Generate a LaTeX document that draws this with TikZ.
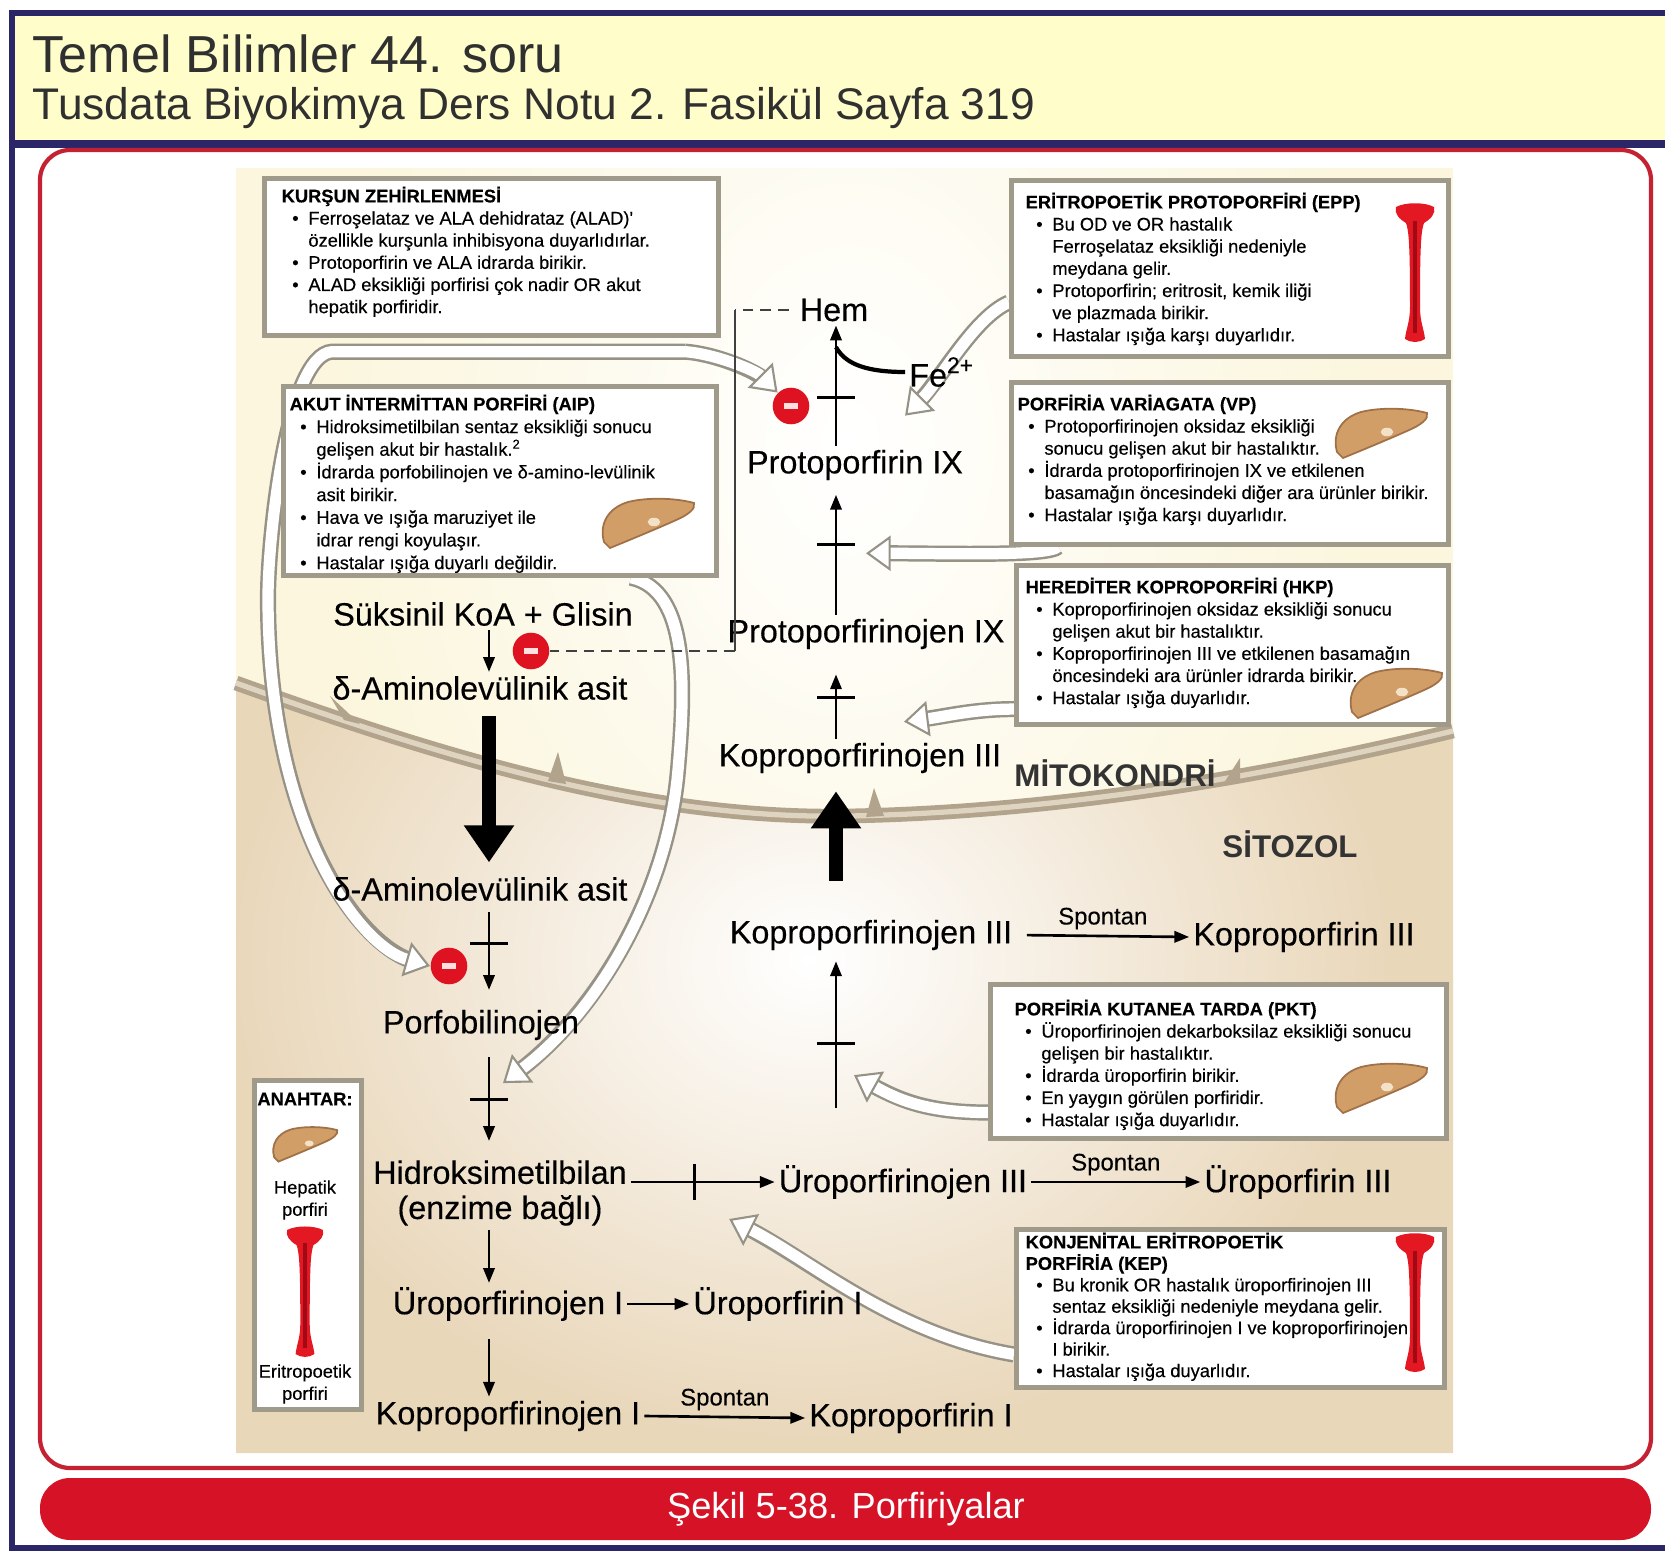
\documentclass[tikz,border=0pt]{standalone}
\usepackage{fontspec}
\setmainfont{Liberation Sans}
\newfontfamily\labelfont{Liberation Sans}[FakeBold=0.35]
\usetikzlibrary{positioning,arrows.meta}

\definecolor{navy}{RGB}{42,38,104}
\definecolor{headyellow}{RGB}{255,254,202}
\definecolor{framered}{RGB}{196,34,50}
\definecolor{barred}{RGB}{214,18,38}
\definecolor{mito}{RGB}{251,246,221}
\definecolor{cyto}{RGB}{233,215,186}
\definecolor{memb}{RGB}{178,164,140}
\definecolor{membin}{RGB}{222,212,192}
\definecolor{boxline}{RGB}{160,154,138}
\definecolor{cgray}{RGB}{150,146,134}
\definecolor{liverbrown}{RGB}{210,158,104}
\definecolor{liverdark}{RGB}{160,112,70}
\definecolor{liverlight}{RGB}{244,226,200}
\definecolor{bonered}{RGB}{228,24,34}
\definecolor{bonedark}{RGB}{160,10,20}
\definecolor{inhred}{RGB}{222,18,32}
\definecolor{headtext}{RGB}{48,48,48}

% bullet lines inside the disease boxes
\newcommand{\bul}{\hspace*{3pt}\makebox[4.6pt][l]{\textbullet}}
\newcommand{\cnt}{\hspace*{7.6pt}}

\pgfdeclarelayer{back}
\pgfdeclarelayer{links}
\pgfsetlayers{back,links,main}

\tikzset{
  liverpic/.pic={
    \fill[liverbrown, draw=liverdark, line width=0.5pt]
      (-44,22) .. controls (-49,4) and (-40,-12) .. (-20,-18)
      .. controls (0,-23) and (28,-22) .. (46,-17)
      .. controls (48,-11) and (40,-5) .. (26,1)
      .. controls (8,9) and (-16,19) .. (-38,28) -- cycle;
    \fill[liverlight] (6,2) ellipse [x radius=1.8pt, y radius=1.2pt];
  },
  bonepic/.pic={
    \fill[bonered]
      (-19,0) .. controls (-10,-5) and (10,-5) .. (19,0)
      .. controls (21,6) and (16,12) .. (9,16)
      .. controls (6,24) and (5,40) .. (5,100)
      .. controls (5,115) and (9,122) .. (10,132)
      .. controls (4,136) and (-4,136) .. (-10,132)
      .. controls (-9,122) and (-5,115) .. (-5,100)
      .. controls (-5,40) and (-6,24) .. (-9,16)
      .. controls (-16,12) and (-21,6) .. (-19,0) -- cycle;
    \draw[bonedark, line width=1pt] (0,14) -- (0,126);
  }
}

\begin{document}
\begin{tikzpicture}[x=0.01cm, y=-0.01cm,
  met/.style={font=\labelfont\fontsize{9.2pt}{10pt}\selectfont, inner sep=1pt},
  spont/.style={font=\labelfont\fontsize{6.8pt}{8pt}\selectfont, inner sep=1.5pt},
  arr/.style={-{Triangle[length=4.2pt, width=3.2pt]}, line width=0.75pt},
  bigarr/.style={-{Triangle[length=10.5pt, width=13.6pt]}, line width=3.7pt},
  bar/.style={fill=black, inner sep=0, minimum width=11pt, minimum height=0.9pt},
  vbar/.style={fill=black, inner sep=0, minimum width=0.9pt, minimum height=10pt},
  inh/.style={circle, fill=inhred, text=white!88!red, minimum size=10.4pt, inner sep=0},
  fb/.style={line width=0.6pt, draw=black!75},
  box/.style={draw=boxline, line width=1.3pt, fill=white, anchor=north west, inner sep=0},
  boxtxt/.style={anchor=north west, inner sep=0, align=left, font=\labelfont\fontsize{5.2pt}{6.3pt}\selectfont},
  keytxt/.style={inner sep=0, align=center, font=\labelfont\fontsize{5.2pt}{6.3pt}\selectfont},
  callout/.style={draw=white, line width=3.2pt,
    -{Triangle[length=7pt, width=10pt, line width=0.6pt, color=cgray, fill=white]},
    preaction={draw=cgray, line width=4.6pt, arrows={-}, shorten >=5pt}},
  zone/.style={font=\bfseries\fontsize{8.9pt}{10pt}\selectfont, text=black!80, inner sep=0}
]
\useasboundingbox (0,0) rectangle (1665,1551);

% page, header and frame
\begin{pgfonlayer}{back}
  \fill[white] (0,0) rectangle (1665,1551);
  \fill[headyellow] (12,15) rectangle (1665,142);
  \draw[navy, line width=1.8pt] (1670,13) -- (12,13) -- (12,1548) -- (1670,1548);
  \draw[navy, line width=2pt] (12,144) -- (1665,144);
  \draw[framered, line width=1.2pt, rounded corners=0.3cm] (40,150) rectangle (1651,1468);
  \fill[barred, rounded corners=0.3cm] (40,1478) rectangle (1651,1540);

  % cell: mitochondrion above, cytosol below the membrane
  \fill[mito] (236,168) rectangle (1453,1453);
  \begin{scope}
    \clip (236,168) rectangle (1453,1453);
    \shade[inner color=white, outer color=mito] (850,440) ellipse [x radius=5.2cm, y radius=7cm];
  \end{scope}
  \fill[cyto] (236,683) .. controls (450,760) and (650,820) .. (850,816)
    .. controls (1050,812) and (1250,780) .. (1453,731) -- (1453,1453) -- (236,1453) -- cycle;
  \begin{scope}
    \clip (236,683) .. controls (450,760) and (650,820) .. (850,816)
      .. controls (1050,812) and (1250,780) .. (1453,731) -- (1453,1453) -- (236,1453) -- cycle;
    \shade[inner color=white, outer color=cyto] (810,960) ellipse [x radius=5.8cm, y radius=4.8cm];
  \end{scope}
  \draw[memb, line width=4.2pt] (236,683) .. controls (450,760) and (650,820) .. (850,816)
    .. controls (1050,812) and (1250,780) .. (1453,731);
  \draw[membin, line width=1.5pt] (236,683) .. controls (450,760) and (650,820) .. (850,816)
    .. controls (1050,812) and (1250,780) .. (1453,731);
  % cristae
  \fill[memb] (344,720) -- (330,696) -- (360,724) -- cycle;
  \fill[memb] (548,781) -- (558,752) -- (566,784) -- cycle;
  \fill[memb] (866,817) -- (874,788) -- (884,816) -- cycle;
  \fill[memb] (1222,786) -- (1240,758) -- (1240,783) -- cycle;
\end{pgfonlayer}

\node[anchor=base west, inner sep=0, text=headtext, font=\fontsize{14.8pt}{16pt}\selectfont] (title) at (32,72) {Temel Bilimler 44. soru};
\node[anchor=base west, inner sep=0, text=headtext, font=\fontsize{12.6pt}{14pt}\selectfont] (source) at (32,119) {Tusdata Biyokimya Ders Notu 2. Fasikül Sayfa 319};
\node[text=white, inner sep=0, font=\fontsize{10.3pt}{12pt}\selectfont] (caption) at (846,1509) {Şekil 5-38. Porfiriyalar};

\node[zone] (mitolbl) at (1115,773) {MİTOKONDRİ};
\node[zone] (sitolbl) at (1290,844) {SİTOZOL};

% heme pathway
\coordinate (axis) at (836,0);
\coordinate (laxis) at (489,0);
\node[met] (hem) at (834,310) {Hem};
\node[met] (fe) at (942,372) {Fe\textsuperscript{2+}};
\node[met] (proto) at (855,465) {Protoporfirin IX};
\node[met] (protogen) at (866,634) {Protoporfirinojen IX};
\node[met] (kop3m) at (860,758) {Koproporfirinojen III};
\node[met] (kop3c) at (871,935) {Koproporfirinojen III};
\node[met] (kopr3) at (1304,937) {Koproporfirin III};
\node[met] (uro3) at (903,1182) {Üroporfirinojen III};
\node[met] (urop3) at (1298,1182) {Üroporfirin III};
\node[met] (suk) at (483,614) {Süksinil KoA + Glisin};
\node[met] (ala1) at (480,688) {δ-Aminolevülinik asit};
\node[met] (ala2) at (480,889) {δ-Aminolevülinik asit};
\node[met] (pbg) at (481,1025) {Porfobilinojen};
\node[met, align=center] (hmb) at (500,1193) {Hidroksimetilbilan\\(enzime bağlı)};
\node[met] (uro1) at (508,1304) {Üroporfirinojen I};
\node[met] (urop1) at (778,1304) {Üroporfirin I};
\node[met] (kop1) at (508,1416) {Koproporfirinojen I};
\node[met] (kopr1) at (911,1418) {Koproporfirin I};

\node[inh] (inhHem) at (791,406) {\rule{4pt}{1.6pt}};
\node[inh] (inhAla) at (531,651) {\rule{4pt}{1.6pt}};
\node[inh] (inhPbg) at (449,966) {\rule{4pt}{1.6pt}};

\draw[arr] (proto.north -| axis) -- node[bar, pos=.4] {} coordinate[pos=.82] (feIn) (hem.south -| axis);
\draw[line width=1.2pt] (fe.west) .. controls +(-45,0) and +(8,14) .. (feIn);
\draw[arr, shorten >=3pt] (protogen.north -| axis) -- node[bar, pos=.54] {} coordinate[pos=.54] (barB) (proto.south -| axis);
\draw[arr, shorten >=6pt] (kop3m.north -| axis) -- node[bar, pos=.48] {} coordinate[pos=.48] (barC) (protogen.south -| axis);
\draw[bigarr, shorten <=10pt, shorten >=4pt] (kop3c.north -| axis) -- (kop3m.south -| axis);
\draw[arr, shorten <=15pt, shorten >=2pt] (uro3.north -| axis) -- node[bar, pos=.57] {} coordinate[pos=.57] (barE) (kop3c.south -| axis);
\draw[arr, shorten <=3pt] (kop3c.east) -- node[above, spont] {Spontan} (kopr3.west);
\draw[arr] (hmb.east |- uro3.west) -- node[vbar, pos=.44] {} coordinate[pos=.44] (barG) (uro3.west);
\draw[arr] (uro3.east) -- node[above, spont] {Spontan} (urop3.west);

\draw[arr] (suk.south -| laxis) -- (ala1.north -| laxis);
\draw[bigarr, shorten <=3.5pt, shorten >=3pt] (ala1.south -| laxis) -- (ala2.north -| laxis);
\draw[arr, shorten <=2pt, shorten >=4.5pt] (ala2.south -| laxis) -- node[bar, pos=.38] {} (pbg.north -| laxis);
\draw[arr, shorten <=3.7pt, shorten >=4.3pt] (pbg.south -| laxis) -- node[bar, pos=.49] {} coordinate[pos=.49] (barL) (hmb.north -| laxis);
\draw[arr] (hmb.south -| laxis) -- (uro1.north -| laxis);
\draw[arr] (uro1.east) -- (urop1.west);
\draw[arr, shorten <=4pt] (uro1.south -| laxis) -- (kop1.north -| laxis);
\draw[arr] (kop1.east) -- node[above, spont] {Spontan} (kopr1.west);

% heme feedback on ALA synthase
\draw[fb, densely dashed, shorten <=2pt] (hem.west) -- (hem.west -| 735,0);
\draw[fb] (hem.west -| 735,0) -- (inhAla.east -| 735,0);
\draw[fb, densely dashed] (inhAla.east -| 735,0) -- (inhAla.east);

% disease boxes
\node[box, minimum width=4.54cm, minimum height=1.57cm] (kursun) at (262,176) {};
\node[boxtxt] at ([shift={(19,10)}]kursun.north west) {\textbf{KURŞUN ZEHİRLENMESİ}\\
\bul Ferroşelataz ve ALA dehidrataz (ALAD)'\\
\cnt özellikle kurşunla inhibisyona duyarlıdırlar.\\
\bul Protoporfirin ve ALA idrarda birikir.\\
\bul ALAD eksikliği porfirisi çok nadir OR akut\\
\cnt hepatik porfiridir.};

\node[box, minimum width=4.37cm, minimum height=1.76cm] (epp) at (1009,178) {};
\node[boxtxt] at ([shift={(16,14)}]epp.north west) {\textbf{ERİTROPOETİK PROTOPORFİRİ (EPP)}\\
\bul Bu OD ve OR hastalık\\
\cnt Ferroşelataz eksikliği nedeniyle\\
\cnt meydana gelir.\\
\bul Protoporfirin; eritrosit, kemik iliği\\
\cnt ve plazmada birikir.\\
\bul Hastalar ışığa karşı duyarlıdır.};
\pic at (1415,207) {bonepic};

\node[box, minimum width=4.33cm, minimum height=1.89cm] (aip) at (281,384) {};
\node[boxtxt, font=\labelfont\fontsize{5.2pt}{6.45pt}\selectfont] at ([shift={(8,10)}]aip.north west) {\textbf{AKUT İNTERMİTTAN PORFİRİ (AIP)}\\
\bul Hidroksimetilbilan sentaz eksikliği sonucu\\
\cnt gelişen akut bir hastalık.\textsuperscript{2}\\
\bul İdrarda porfobilinojen ve δ-amino-levülinik\\
\cnt asit birikir.\\
\bul Hava ve ışığa maruziyet ile\\
\cnt idrar rengi koyulaşır.\\
\bul Hastalar ışığa duyarlı değildir.};
\pic at (648,520) {liverpic};

\node[box, minimum width=4.37cm, minimum height=1.62cm] (vp) at (1009,380) {};
\node[boxtxt] at ([shift={(8,14)}]vp.north west) {\textbf{PORFİRİA VARİAGATA (VP)}\\
\bul Protoporfirinojen oksidaz eksikliği\\
\cnt sonucu gelişen akut bir hastalıktır.\\
\bul İdrarda protoporfirinojen IX ve etkilenen\\
\cnt basamağın öncesindeki diğer ara ürünler birikir.\\
\bul Hastalar ışığa karşı duyarlıdır.};
\pic at (1381,430) {liverpic};

\node[box, minimum width=4.32cm, minimum height=1.59cm] (hkp) at (1014,563) {};
\node[boxtxt] at ([shift={(11,14)}]hkp.north west) {\textbf{HEREDİTER KOPROPORFİRİ (HKP)}\\
\bul Koproporfirinojen oksidaz eksikliği sonucu\\
\cnt gelişen akut bir hastalıktır.\\
\bul Koproporfirinojen III ve etkilenen basamağın\\
\cnt öncesindeki ara ürünler idrarda birikir.\\
\bul Hastalar ışığa duyarlıdır.};
\pic at (1396,690) {liverpic};

\node[box, minimum width=4.56cm, minimum height=1.54cm] (pkt) at (988,982) {};
\node[boxtxt] at ([shift={(26,17)}]pkt.north west) {\textbf{PORFİRİA KUTANEA TARDA (PKT)}\\
\bul Üroporfirinojen dekarboksilaz eksikliği sonucu\\
\cnt gelişen bir hastalıktır.\\
\bul İdrarda üroporfirin birikir.\\
\bul En yaygın görülen porfiridir.\\
\bul Hastalar ışığa duyarlıdır.};
\pic at (1381,1085) {liverpic};

\node[box, minimum width=4.28cm, minimum height=1.58cm] (kep) at (1014,1227) {};
\node[boxtxt, font=\labelfont\fontsize{5.2pt}{6.1pt}\selectfont] at ([shift={(11,5)}]kep.north west) {\textbf{KONJENİTAL ERİTROPOETİK}\\
\textbf{PORFİRİA (KEP)}\\
\bul Bu kronik OR hastalık üroporfirinojen III\\
\cnt sentaz eksikliği nedeniyle meydana gelir.\\
\bul İdrarda üroporfirinojen I ve koproporfirinojen\\
\cnt I birikir.\\
\bul Hastalar ışığa duyarlıdır.};
\pic at (1415,1237) {bonepic};

% key
\node[box, minimum width=1.07cm, minimum height=3.29cm] (key) at (252,1078) {};
\node[keytxt] (keyhead) at (305,1099) {\textbf{ANAHTAR:}};
\pic[scale=0.7] at (305,1142) {liverpic};
\node[keytxt] (keyliver) at (305,1200) {Hepatik\\porfiri};
\pic[scale=0.94] at (305,1230) {bonepic};
\node[keytxt] (keybone) at (305,1384) {Eritropoetik\\porfiri};

% enzyme defects pointing at their steps
\begin{pgfonlayer}{links}
  \draw[callout] ([shift={(-36,14)}]kursun.south east) .. controls +(30,2) and +(-22,-22) .. (inhHem.north west);
  \draw[callout] ([shift={(-36,14)}]kursun.south east) -- ([shift={(70,14)}]kursun.south west)
    .. controls +(-45,3) and +(0,-60) .. ([shift={(6,260)}]kursun.south west)
    .. controls +(0,230) and +(-70,-20) .. (inhPbg.west);
  \draw[callout] ([yshift=16pt]epp.south west) .. controls +(-35,15) and +(35,-35) .. ([yshift=-7pt]fe.south west);
  \draw[callout] ([xshift=14pt]vp.south west) .. controls +(-10,10) and +(80,0) .. ([shift={(30,9)}]barB);
  \draw[callout] ([yshift=5pt]hkp.south west) .. controls +(-40,0) and +(40,-5) .. ([shift={(68,24)}]barC);
  \draw[callout] ([yshift=8pt]pkt.south west) .. controls +(-60,0) and +(45,25) .. ([shift={(18,32)}]barE);
  \draw[callout] ([yshift=10pt]kep.south west) .. controls +(-120,-20) and +(80,40) .. ([shift={(35,37)}]barG);
  \draw[callout] ([xshift=-25pt]aip.south east) .. controls (690,590) and (685,690) .. (678,770)
    .. controls (668,890) and (600,1010) .. ([shift={(14,-16)}]barL);
\end{pgfonlayer}
\end{tikzpicture}
\end{document}
